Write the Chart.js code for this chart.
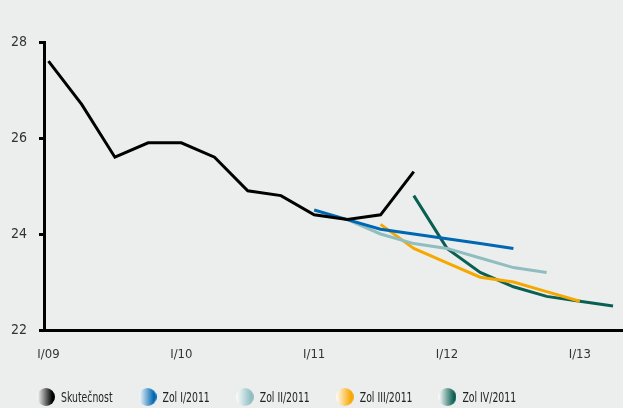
<!DOCTYPE html>
<html>
<head>
<meta charset="utf-8">
<script src="https://cdn.jsdelivr.net/npm/chart.js@4/dist/chart.umd.min.js"></script>
<style>
    html, body { margin: 0; padding: 0; background: #eceeed; }
    #appChart { width: 623px; height: 408px; }
</style>
</head>
<body>
<div id="appChart"><canvas id="myChart" width="623" height="408"></canvas></div>
<script>
// Ctvrtleti I/09 .. II/13
const quarterLabels = ['I/09', 'II/09', 'III/09', 'IV/09', 'I/10', 'II/10', 'III/10', 'IV/10',
    'I/11', 'II/11', 'III/11', 'IV/11', 'I/12', 'II/12', 'III/12', 'IV/12', 'I/13', 'II/13'];
const tickQuarters = [0, 4, 8, 12, 16];
const yTicks = [22, 24, 26, 28];

const seriesNames = ['Skutečnost', 'Zol I/2011', 'Zol II/2011', 'Zol III/2011', 'Zol IV/2011'];
const skutecnost = [27.6, 26.7, 25.6, 25.9, 25.9, 25.6, 24.9, 24.8, 24.4, 24.3, 24.4, 25.3, null, null, null, null, null, null];
const zolI = [null, null, null, null, null, null, null, null, 24.5, 24.3, 24.1, 24.0, 23.9, 23.8, 23.7, null, null, null];
const zolII = [null, null, null, null, null, null, null, null, null, 24.3, 24.0, 23.8, 23.7, 23.5, 23.3, 23.2, null, null];
const zolIII = [null, null, null, null, null, null, null, null, null, null, 24.2, 23.7, 23.4, 23.1, 23.0, 22.8, 22.6, null];
const zolIV = [null, null, null, null, null, null, null, null, null, null, null, 24.8, 23.7, 23.2, 22.9, 22.7, 22.6, 22.5];

const seriesColors = ['#000000', '#0067b1', '#8fbdc0', '#f6a800', '#0b5f52'];

const fontFamily = '"Liberation Sans Narrow", "DejaVu Sans Condensed", sans-serif';

function toPoints(arr) {
    return arr.map((v, i) => ({ x: i, y: v }));
}

// kolecko s prechodem do bila pro legendu
function legendDot(color) {
    let c = document.createElement('canvas');
    c.width = 18;
    c.height = 18;
    let g = c.getContext('2d');
    let grad = g.createLinearGradient(0, 0, 18, 0);
    grad.addColorStop(0, '#ffffff');
    grad.addColorStop(0.85, color);
    g.fillStyle = grad;
    g.beginPath();
    g.arc(9, 9, 9, 0, Math.PI * 2);
    g.fill();
    return c;
}

// legenda dole, text trochu zuzeny (fillText maxWidth)
const bottomLegend = {
    id: 'bottomLegend',
    afterDraw(chart) {
        const ctx = chart.ctx;
        let x = 37;
        const y = 397;
        ctx.save();
        ctx.font = '14px ' + fontFamily;
        ctx.textBaseline = 'middle';
        ctx.fillStyle = '#222222';
        chart.data.datasets.forEach((ds) => {
            ctx.drawImage(legendDot(ds.borderColor), x, y - 9);
            x += 24;
            let w = ctx.measureText(ds.label).width * 0.74;
            ctx.fillText(ds.label, x, y + 1, w);
            x += w + 26;
        });
        ctx.restore();
    }
};

const allSeries = [skutecnost, zolI, zolII, zolIII, zolIV];

let ctx = document.getElementById('myChart');
let myChart = new Chart(ctx, {
    type: 'line',
    data: {
        datasets: allSeries.map((arr, i) => ({
            label: seriesNames[i],
            data: toPoints(arr),
            borderColor: seriesColors[i],
            backgroundColor: seriesColors[i],
            borderWidth: 3,
            pointRadius: 0,
            tension: 0,
            spanGaps: false,
            fill: false
        }))
    },
    options: {
        responsive: false,
        animation: false,
        layout: {
            padding: { top: 42, right: 0, bottom: 38, left: 0 }
        },
        plugins: {
            legend: { display: false },
            tooltip: { enabled: false }
        },
        scales: {
            x: {
                type: 'linear',
                min: -0.135,
                max: 17.3,
                afterBuildTicks: (scale) => {
                    scale.ticks = tickQuarters.map(v => ({ value: v }));
                },
                afterFit: (scale) => { scale.height = 40; },
                grid: { display: false },
                border: { display: true, color: '#000000', width: 3 },
                ticks: {
                    padding: 9,
                    maxRotation: 0,
                    autoSkip: false,
                    color: '#333333',
                    font: { family: fontFamily, size: 13 },
                    callback: (v) => quarterLabels[v]
                }
            },
            y: {
                min: 22,
                max: 28,
                afterBuildTicks: (scale) => {
                    scale.ticks = yTicks.map(v => ({ value: v }));
                },
                afterFit: (scale) => { scale.width = 44; },
                grid: {
                    drawOnChartArea: false,
                    drawTicks: true,
                    tickLength: 5,
                    tickWidth: 3,
                    tickColor: '#000000'
                },
                border: { display: true, color: '#000000', width: 3 },
                ticks: {
                    padding: 12,
                    color: '#333333',
                    font: { family: fontFamily, size: 14 }
                }
            }
        }
    },
    plugins: [bottomLegend]
});
</script>
</body>
</html>
